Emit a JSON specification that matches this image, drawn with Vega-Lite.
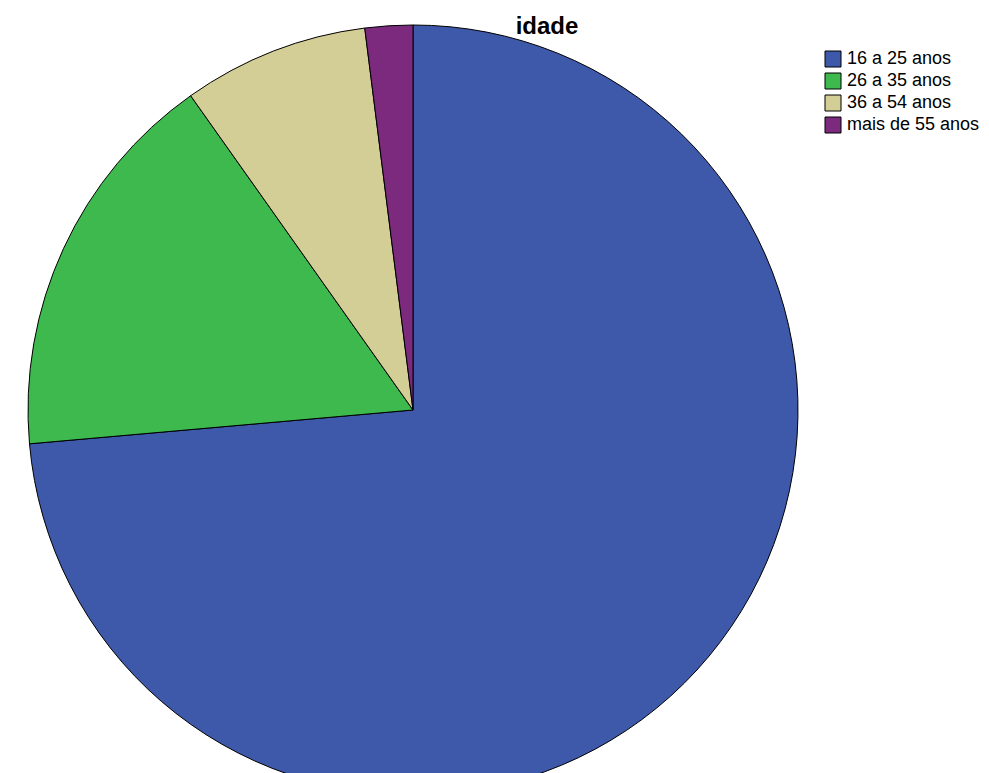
{
  "$schema": "https://vega.github.io/schema/vega-lite/v6.json",
  "autosize": "none",
  "padding": {"top": 45, "left": 0, "right": 163, "bottom": 0},
  "width": 826,
  "height": 730,
  "background": "white",
  "title": {
    "text": "idade",
    "anchor": "middle",
    "dx": 134,
    "dy": 24,
    "offset": 8,
    "font": "Liberation Sans",
    "fontSize": 24,
    "fontWeight": "bold",
    "color": "black"
  },
  "data": {
    "values": [
      {"idade": "16 a 25 anos", "percent": 73.6, "order": 1},
      {"idade": "26 a 35 anos", "percent": 16.6, "order": 2},
      {"idade": "36 a 54 anos", "percent": 7.8, "order": 3},
      {"idade": "mais de 55 anos", "percent": 2.0, "order": 4}
    ]
  },
  "mark": {"type": "arc", "radius": 385, "stroke": "black", "strokeWidth": 1},
  "encoding": {
    "theta": {"field": "percent", "type": "quantitative", "stack": true},
    "order": {"field": "order", "type": "quantitative"},
    "color": {
      "field": "idade",
      "type": "nominal",
      "title": null,
      "scale": {
        "domain": ["16 a 25 anos", "26 a 35 anos", "36 a 54 anos", "mais de 55 anos"],
        "range": ["#3E58AA", "#3DB94E", "#D3CD96", "#7B2A7E"]
      },
      "legend": {
        "orient": "right",
        "offset": -7,
        "padding": 5,
        "symbolType": "square",
        "symbolSize": 256,
        "symbolStrokeColor": "black",
        "symbolStrokeWidth": 1,
        "symbolOpacity": 1,
        "labelFont": "Liberation Sans",
        "labelFontSize": 18,
        "labelColor": "black",
        "labelOffset": 5,
        "rowPadding": 2
      }
    }
  }
}
